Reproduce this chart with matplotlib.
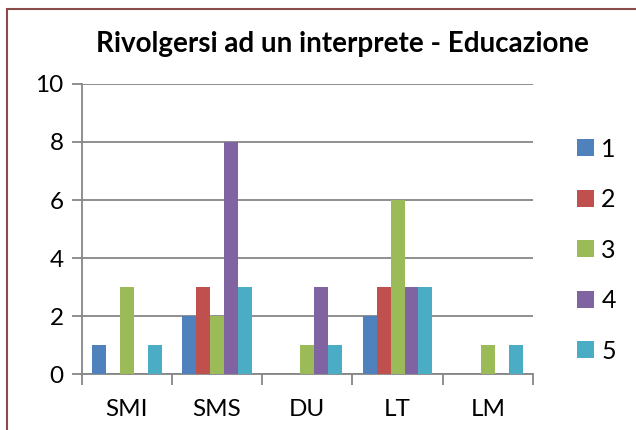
import numpy as np
import matplotlib.pyplot as plt
from matplotlib.patches import Rectangle

plt.rcParams['font.family'] = ['Lato', 'DejaVu Sans']

# dati
categorie = ['SMI', 'SMS', 'DU', 'LT', 'LM']
serie = ['1', '2', '3', '4', '5']
valori_1 = [1, 2, 0, 2, 0]
valori_2 = [0, 3, 0, 3, 0]
valori_3 = [3, 2, 1, 6, 1]
valori_4 = [0, 8, 3, 3, 0]
valori_5 = [1, 3, 1, 3, 1]
colori = ['#4F81BD', '#C0504D', '#9BBB59', '#8064A2', '#4BACC6']

fig = plt.figure(figsize=(6.36, 4.30), dpi=100)
ax = fig.add_axes([0.1285, 0.1295, 0.7095, 0.6756])

x = np.arange(len(categorie))
w = 0.154
tutti = [valori_1, valori_2, valori_3, valori_4, valori_5]
for i, (vals, col) in enumerate(zip(tutti, colori)):
    ax.bar(x + (i - 2) * w, vals, width=w, color=col, label=serie[i], zorder=3)

ax.set_xlim(-0.5, len(categorie) - 0.5)
ax.set_ylim(0, 10)
ax.set_yticks(range(0, 11, 2))
ax.set_xticks(np.arange(-0.5, len(categorie), 1.0), minor=False)
ax.set_xticklabels([])
ax.set_xticks(x, minor=True)
ax.set_xticklabels(categorie, minor=True)

gcol = '#868686'
ax.yaxis.grid(True, color=gcol, lw=1.3, zorder=0)
for s in ['top', 'right']:
    ax.spines[s].set_visible(False)
for s in ['left', 'bottom']:
    ax.spines[s].set_color(gcol)
    ax.spines[s].set_linewidth(1.3)
ax.tick_params(axis='y', which='major', length=7, width=1.3, color=gcol,
               labelsize=17.5, pad=6)
ax.tick_params(axis='x', which='major', length=8, width=1.3, color=gcol)
ax.tick_params(axis='x', which='minor', length=0, labelsize=17.5, pad=18)

fig.text(0.538, 0.897, 'Rivolgersi ad un interprete - Educazione',
         ha='center', va='center', fontsize=20, fontweight='bold')

fig.legend(loc='upper left', bbox_to_anchor=(0.908, 0.68), frameon=False,
           fontsize=18, handlelength=0.65, handleheight=0.65,
           handletextpad=0.3, labelspacing=1.1, borderpad=0, borderaxespad=0)

# cornice del grafico
fig.patches.append(Rectangle((7 / 636, -0.1), 1.2, 1 - 9 / 430 + 0.1,
                             transform=fig.transFigure, fill=False,
                             edgecolor='#8B4A4A', lw=1.5))

fig.savefig('out.png', dpi=100)
